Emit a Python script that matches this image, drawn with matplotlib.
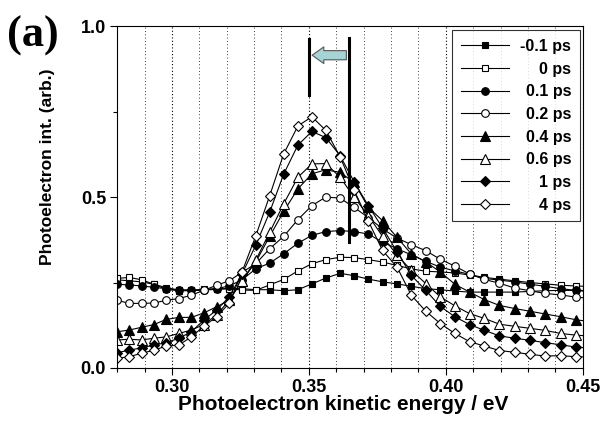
import matplotlib
matplotlib.use('Agg')
import matplotlib.pyplot as plt
from matplotlib.ticker import MultipleLocator, FormatStrFormatter

# photoelectron kinetic energy of each sample point (eV)
energy = [0.2800, 0.2844, 0.2889, 0.2934, 0.2979, 0.3025, 0.3071, 0.3116, 0.3163, 0.3209,
          0.3256, 0.3306, 0.3357, 0.3408, 0.3460, 0.3511, 0.3562, 0.3614, 0.3665, 0.3717,
          0.3769, 0.3822, 0.3874, 0.3927, 0.3980, 0.4033, 0.4087, 0.4141, 0.4196, 0.4251,
          0.4307, 0.4363, 0.4419, 0.4476, 0.4533]

int_m01 = [0.258, 0.255, 0.252, 0.245, 0.230, 0.226, 0.226, 0.228, 0.230, 0.232,
           0.232, 0.229, 0.229, 0.226, 0.229, 0.246, 0.263, 0.277, 0.270, 0.260,
           0.252, 0.246, 0.239, 0.232, 0.229, 0.225, 0.222, 0.222, 0.222, 0.222,
           0.224, 0.226, 0.227, 0.227, 0.227]
int_0 = [0.262, 0.265, 0.258, 0.245, 0.235, 0.228, 0.228, 0.230, 0.232, 0.232,
         0.228, 0.227, 0.243, 0.259, 0.284, 0.305, 0.317, 0.324, 0.323, 0.317,
         0.310, 0.300, 0.290, 0.283, 0.281, 0.278, 0.272, 0.265, 0.260, 0.255,
         0.250, 0.246, 0.242, 0.240, 0.238]
int_01 = [0.245, 0.243, 0.240, 0.236, 0.232, 0.228, 0.228, 0.228, 0.232, 0.240,
          0.258, 0.290, 0.307, 0.334, 0.365, 0.388, 0.399, 0.402, 0.399, 0.392,
          0.368, 0.349, 0.331, 0.312, 0.295, 0.284, 0.274, 0.262, 0.257, 0.252,
          0.245, 0.239, 0.232, 0.227, 0.222]
int_02 = [0.198, 0.189, 0.189, 0.190, 0.198, 0.203, 0.213, 0.227, 0.242, 0.255,
          0.280, 0.305, 0.349, 0.385, 0.434, 0.475, 0.500, 0.497, 0.470, 0.440,
          0.407, 0.380, 0.361, 0.343, 0.318, 0.298, 0.275, 0.259, 0.248, 0.234,
          0.226, 0.218, 0.214, 0.207, 0.204]
int_04 = [0.106, 0.111, 0.119, 0.127, 0.142, 0.148, 0.148, 0.161, 0.179, 0.198,
          0.255, 0.310, 0.385, 0.458, 0.524, 0.568, 0.580, 0.572, 0.543, 0.470,
          0.431, 0.382, 0.334, 0.310, 0.281, 0.245, 0.222, 0.200, 0.183, 0.174,
          0.166, 0.158, 0.150, 0.141, 0.135]
int_06 = [0.082, 0.084, 0.082, 0.087, 0.091, 0.101, 0.111, 0.127, 0.155, 0.198,
          0.255, 0.315, 0.397, 0.480, 0.558, 0.597, 0.598, 0.558, 0.500, 0.446,
          0.385, 0.330, 0.286, 0.247, 0.208, 0.182, 0.159, 0.145, 0.128, 0.122,
          0.116, 0.110, 0.101, 0.096, 0.093]
int_1 = [0.045, 0.052, 0.059, 0.067, 0.074, 0.087, 0.106, 0.140, 0.169, 0.208,
         0.275, 0.359, 0.456, 0.567, 0.652, 0.692, 0.674, 0.621, 0.545, 0.475,
         0.410, 0.340, 0.271, 0.227, 0.180, 0.150, 0.127, 0.110, 0.094, 0.087,
         0.081, 0.074, 0.068, 0.061, 0.058]
int_4 = [0.028, 0.033, 0.043, 0.052, 0.064, 0.067, 0.091, 0.122, 0.150, 0.189,
         0.281, 0.386, 0.504, 0.626, 0.708, 0.735, 0.695, 0.618, 0.521, 0.430,
         0.344, 0.295, 0.213, 0.166, 0.130, 0.101, 0.077, 0.064, 0.051, 0.046,
         0.040, 0.035, 0.036, 0.033, 0.032]

delay_labels = ['-0.1 ps', '0 ps', '0.1 ps', '0.2 ps', '0.4 ps', '0.6 ps', '1 ps', '4 ps']
series = [int_m01, int_0, int_01, int_02, int_04, int_06, int_1, int_4]
markers = ['s', 's', 'o', 'o', '^', '^', 'D', 'D']
filled = [True, False, True, False, True, False, True, False]
msizes = [5, 5, 5.5, 5.5, 6.5, 6.5, 5.5, 5.5]

# marker lines (peak positions) and shift arrow
peak_late = 0.3500
peak_early = 0.3645

plt.rcParams['font.family'] = ['Liberation Sans', 'DejaVu Sans']
plt.rcParams['font.weight'] = 'bold'

fig = plt.figure(figsize=(6.07, 4.36), dpi=100)
ax = fig.add_axes([0.193, 0.156, 0.767, 0.784])

for y, lab, mk, f, ms in zip(series, delay_labels, markers, filled, msizes):
    ax.plot(energy, y, color='black', lw=0.8, marker=mk, ms=ms,
            mfc='black' if f else 'white', mec='black', mew=0.8, label=lab)

ax.plot([peak_late, peak_late], [0.80, 0.962], color='black', lw=2.2)
ax.plot([peak_early, peak_early], [0.37, 0.965], color='black', lw=2.2)
ax.annotate('', xy=(0.3512, 0.915), xytext=(0.3637, 0.915),
            arrowprops=dict(arrowstyle='simple,head_length=0.7,head_width=1.0,tail_width=0.55',
                            fc='#a6d3d3', ec='#555555', lw=0.8, mutation_scale=12,
                            shrinkA=0, shrinkB=0))

ax.set_xlim(0.28, 0.45)
ax.set_ylim(0.0, 1.0)
ax.xaxis.set_major_locator(MultipleLocator(0.05))
ax.xaxis.set_minor_locator(MultipleLocator(0.01))
ax.yaxis.set_major_locator(MultipleLocator(0.5))
ax.yaxis.set_minor_locator(MultipleLocator(0.25))
ax.xaxis.set_major_formatter(FormatStrFormatter('%.2f'))
ax.yaxis.set_major_formatter(FormatStrFormatter('%.1f'))
ax.tick_params(which='both', direction='out', labelsize=13, width=0.8)
ax.tick_params(which='major', length=5)
ax.tick_params(which='minor', length=3)
ax.tick_params(axis='x', pad=3)
ax.tick_params(axis='y', pad=3)

ax.grid(axis='x', which='major', ls=(0, (1, 2)), color='black', lw=0.8)
ax.grid(axis='x', which='minor', ls=(0, (1, 3)), color='black', lw=0.6)
for s in ax.spines.values():
    s.set_linewidth(0.8)

ax.set_xlabel('Photoelectron kinetic energy / eV', fontsize=15, fontweight='bold')
ax.xaxis.set_label_coords(0.485, -0.08)
ax.set_ylabel('Photoelectron int. (arb.)', fontsize=12.5, fontweight='bold')
ax.yaxis.set_label_coords(-0.133, 0.59)

fig.text(0.012, 0.965, '(a)', fontsize=32, fontweight='bold', va='top', ha='left',
         family=['Liberation Serif', 'DejaVu Serif'])

leg = ax.legend(loc='upper right', bbox_to_anchor=(0.994, 0.988), borderaxespad=0,
                frameon=True, fancybox=False, edgecolor='black', fontsize=11.5,
                handlelength=3.0, labelspacing=0.48, borderpad=0.55, handletextpad=0.7)
leg.get_frame().set_linewidth(0.8)
fig.canvas.draw()
renderer = fig.canvas.get_renderer()
widths = [t.get_window_extent(renderer).width for t in leg.get_texts()]
for t, w in zip(leg.get_texts(), widths):
    t.set_position((max(widths) - w, 0))

fig.savefig('out.png', dpi=100)
